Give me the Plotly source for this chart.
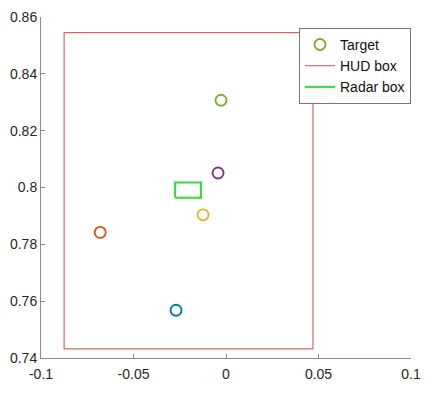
import plotly.graph_objects as go

# Target points
target_x = [-0.027, -0.068, -0.0124, -0.0043, -0.0027]
target_y = [0.7568, 0.7842, 0.7904, 0.8051, 0.8307]
target_colors = ["#0072BD", "#D95319", "#EDB120", "#7E2F8E", "#77AC30"]

# HUD box corners
hud_x = [-0.0875, 0.047, 0.047, -0.0875, -0.0875]
hud_y = [0.7432, 0.7432, 0.8545, 0.8545, 0.7432]

# Radar box corners
radar_x = [-0.0275, -0.0135, -0.0135, -0.0275, -0.0275]
radar_y = [0.7964, 0.7964, 0.8018, 0.8018, 0.7964]

x_ticks = [-0.1, -0.05, 0, 0.05, 0.1]
x_tick_text = ["-0.1", "-0.05", "0", "0.05", "0.1"]
y_ticks = [0.74, 0.76, 0.78, 0.8, 0.82, 0.84, 0.86]
y_tick_text = ["0.74", "0.76", "0.78", "0.8", "0.82", "0.84", "0.86"]

fig = go.Figure()

fig.add_trace(go.Scatter(
    x=hud_x, y=hud_y, mode="lines", name="HUD box",
    line=dict(color="#D06A6A", width=1.2), legendrank=2))
fig.add_trace(go.Scatter(
    x=radar_x, y=radar_y, mode="lines", name="Radar box",
    line=dict(color="#33DD33", width=2), legendrank=3))

for i, (tx, ty, c) in enumerate(zip(target_x, target_y, target_colors)):
    fig.add_trace(go.Scatter(
        x=[tx], y=[ty], mode="markers", name="Target",
        marker=dict(symbol="circle-open", size=11, color=c, line=dict(width=1.8, color=c)),
        showlegend=(i == len(target_x) - 1), legendrank=1))

axis_common = dict(
    showgrid=False, zeroline=False, showline=True, linecolor="#8a8a8a", linewidth=1,
    ticks="inside", ticklen=4, tickcolor="#8a8a8a", automargin=False,
    tickfont=dict(family="Liberation Sans, Arial", size=14, color="#262626"),
    mirror=False)

# page body has an 8px default margin; compensate in figure size/margins
fig.update_layout(
    width=421, height=385,
    margin=dict(l=33, r=18, t=9, b=35),
    paper_bgcolor="white", plot_bgcolor="white",
    xaxis=dict(range=[-0.1, 0.1], tickvals=x_ticks, ticktext=x_tick_text,
               ticklabelstandoff=3, **axis_common),
    yaxis=dict(range=[0.74, 0.86], tickvals=y_ticks, ticktext=y_tick_text, **axis_common),
    legend=dict(x=1.0, y=0.968, xanchor="right", yanchor="top",
                bordercolor="#777777", borderwidth=1, bgcolor="white",
                font=dict(family="Liberation Sans, Arial", size=14, color="#111111"),
                itemwidth=30, tracegroupgap=0),
    showlegend=True,
)

fig.write_html("out.html")
